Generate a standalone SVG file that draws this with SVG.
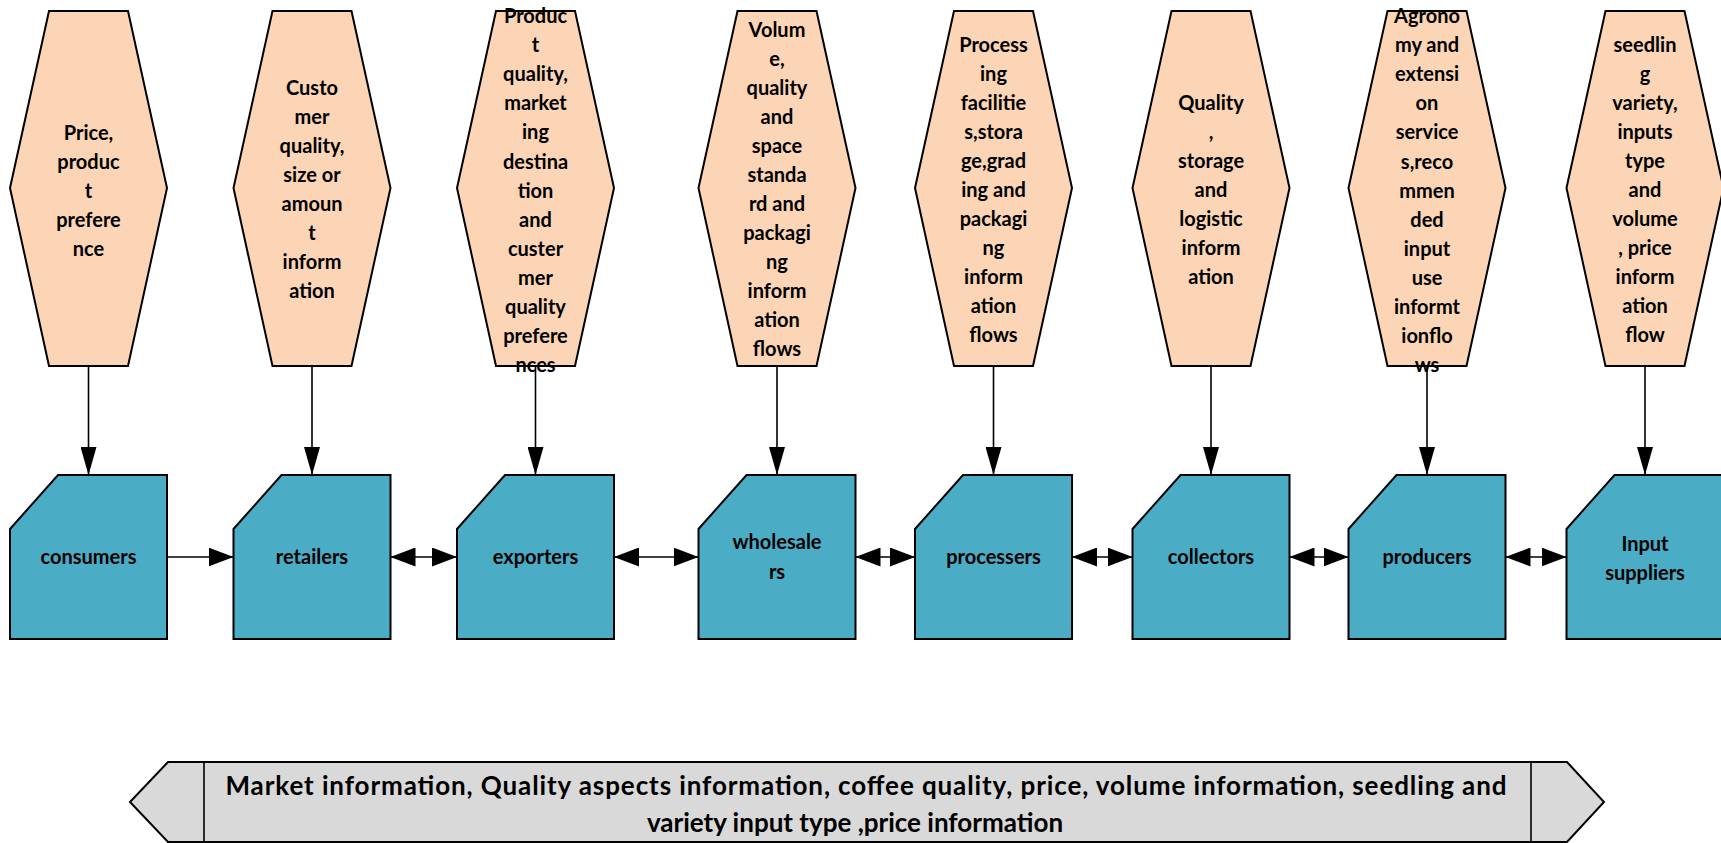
<svg xmlns="http://www.w3.org/2000/svg" xmlns:xlink="http://www.w3.org/1999/xlink" width="1721" height="843" viewBox="0 0 1721 843">
<style>
.hex{fill:#FBD5B5;stroke:#000;stroke-width:2}
.box{fill:#4BACC6;stroke:#000;stroke-width:2}
.ban{fill:#D9D9D9;stroke:#000;stroke-width:2}
.t{font-family:Lato,"Open Sans","Liberation Sans",sans-serif;font-weight:bold;font-size:20px;fill:#000;text-anchor:middle}
.bt{font-family:Lato,"Open Sans","Liberation Sans",sans-serif;font-weight:bold;font-size:26px;fill:#000;text-anchor:middle}
.c{stroke:#000;stroke-width:1.6;fill:none}
.v{marker-end:url(#av)}
.h1{marker-end:url(#ah)}
.h2{marker-start:url(#ah);marker-end:url(#ah)}
</style>
<defs>
<polygon id="hexs" points="-39.5,11 39.5,11 78.5,188 39.5,366 -39.5,366 -78.5,188"/>
<path id="boxs" d="M48,475 H157 V639 H0 V529 Z"/>
<marker id="av" markerUnits="userSpaceOnUse" markerWidth="28" markerHeight="16" viewBox="0 0 28 16" refX="28" refY="8" orient="auto"><path d="M0,0 L28,8 L0,16 Z" fill="#000"/></marker>
<marker id="ah" markerUnits="userSpaceOnUse" markerWidth="25" markerHeight="19" viewBox="0 0 25 19" refX="25" refY="9.5" orient="auto-start-reverse"><path d="M0,0 L25,9.5 L0,19 Z" fill="#000"/></marker>
</defs>

<g id="info-consumers">
<use xlink:href="#hexs" class="hex" x="88.5"/>
<text class="t" x="88.5" y="140"><tspan x="88.5">Price,</tspan><tspan x="88.5" dy="29">produc</tspan><tspan x="88.5" dy="29">t</tspan><tspan x="88.5" dy="29">prefere</tspan><tspan x="88.5" dy="29">nce</tspan></text>
</g>
<g id="info-retailers">
<use xlink:href="#hexs" class="hex" x="312"/>
<text class="t" x="312" y="95"><tspan x="312">Custo</tspan><tspan x="312" dy="29">mer</tspan><tspan x="312" dy="29">quality,</tspan><tspan x="312" dy="29">size or</tspan><tspan x="312" dy="29">amoun</tspan><tspan x="312" dy="29">t</tspan><tspan x="312" dy="29">inform</tspan><tspan x="312" dy="29">ation</tspan></text>
</g>
<g id="info-exporters">
<use xlink:href="#hexs" class="hex" x="535.5"/>
<text class="t" x="535.5" y="23"><tspan x="535.5">Produc</tspan><tspan x="535.5" dy="29.1">t</tspan><tspan x="535.5" dy="29.1">quality,</tspan><tspan x="535.5" dy="29.1">market</tspan><tspan x="535.5" dy="29.1">ing</tspan><tspan x="535.5" dy="29.1">destina</tspan><tspan x="535.5" dy="29.1">tion</tspan><tspan x="535.5" dy="29.1">and</tspan><tspan x="535.5" dy="29.1">custer</tspan><tspan x="535.5" dy="29.1">mer</tspan><tspan x="535.5" dy="29.1">quality</tspan><tspan x="535.5" dy="29.1">prefere</tspan><tspan x="535.5" dy="29.1">nces</tspan></text>
</g>
<g id="info-wholesalers">
<use xlink:href="#hexs" class="hex" x="777"/>
<text class="t" x="777" y="37"><tspan x="777">Volum</tspan><tspan x="777" dy="29">e,</tspan><tspan x="777" dy="29">quality</tspan><tspan x="777" dy="29">and</tspan><tspan x="777" dy="29">space</tspan><tspan x="777" dy="29">standa</tspan><tspan x="777" dy="29">rd and</tspan><tspan x="777" dy="29">packagi</tspan><tspan x="777" dy="29">ng</tspan><tspan x="777" dy="29">inform</tspan><tspan x="777" dy="29">ation</tspan><tspan x="777" dy="29">flows</tspan></text>
</g>
<g id="info-processers">
<use xlink:href="#hexs" class="hex" x="993.5"/>
<text class="t" x="993.5" y="52"><tspan x="993.5">Process</tspan><tspan x="993.5" dy="29">ing</tspan><tspan x="993.5" dy="29">facilitie</tspan><tspan x="993.5" dy="29">s,stora</tspan><tspan x="993.5" dy="29">ge,grad</tspan><tspan x="993.5" dy="29">ing and</tspan><tspan x="993.5" dy="29">packagi</tspan><tspan x="993.5" dy="29">ng</tspan><tspan x="993.5" dy="29">inform</tspan><tspan x="993.5" dy="29">ation</tspan><tspan x="993.5" dy="29">flows</tspan></text>
</g>
<g id="info-collectors">
<use xlink:href="#hexs" class="hex" x="1211"/>
<text class="t" x="1211" y="110"><tspan x="1211">Quality</tspan><tspan x="1211" dy="29">,</tspan><tspan x="1211" dy="29">storage</tspan><tspan x="1211" dy="29">and</tspan><tspan x="1211" dy="29">logistic</tspan><tspan x="1211" dy="29">inform</tspan><tspan x="1211" dy="29">ation</tspan></text>
</g>
<g id="info-producers">
<use xlink:href="#hexs" class="hex" x="1427"/>
<text class="t" x="1427" y="23"><tspan x="1427">Agrono</tspan><tspan x="1427" dy="29.1">my and</tspan><tspan x="1427" dy="29.1">extensi</tspan><tspan x="1427" dy="29.1">on</tspan><tspan x="1427" dy="29.1">service</tspan><tspan x="1427" dy="29.1">s,reco</tspan><tspan x="1427" dy="29.1">mmen</tspan><tspan x="1427" dy="29.1">ded</tspan><tspan x="1427" dy="29.1">input</tspan><tspan x="1427" dy="29.1">use</tspan><tspan x="1427" dy="29.1">informt</tspan><tspan x="1427" dy="29.1">ionflo</tspan><tspan x="1427" dy="29.1">ws</tspan></text>
</g>
<g id="info-input-suppliers">
<use xlink:href="#hexs" class="hex" x="1645"/>
<text class="t" x="1645" y="52"><tspan x="1645">seedlin</tspan><tspan x="1645" dy="29">g</tspan><tspan x="1645" dy="29">variety,</tspan><tspan x="1645" dy="29">inputs</tspan><tspan x="1645" dy="29">type</tspan><tspan x="1645" dy="29">and</tspan><tspan x="1645" dy="29">volume</tspan><tspan x="1645" dy="29">, price</tspan><tspan x="1645" dy="29">inform</tspan><tspan x="1645" dy="29">ation</tspan><tspan x="1645" dy="29">flow</tspan></text>
</g>

<g id="consumers"><use xlink:href="#boxs" class="box" x="10"/><text class="t" x="88.5" y="564">consumers</text></g>
<g id="retailers"><use xlink:href="#boxs" class="box" x="233.5"/><text class="t" x="312" y="564">retailers</text></g>
<g id="exporters"><use xlink:href="#boxs" class="box" x="457"/><text class="t" x="535.5" y="564">exporters</text></g>
<g id="wholesalers"><use xlink:href="#boxs" class="box" x="698.5"/><text class="t" x="777" y="549">wholesale<tspan x="777" dy="30">rs</tspan></text></g>
<g id="processers"><use xlink:href="#boxs" class="box" x="915"/><text class="t" x="993.5" y="564">processers</text></g>
<g id="collectors"><use xlink:href="#boxs" class="box" x="1132.5"/><text class="t" x="1211" y="564">collectors</text></g>
<g id="producers"><use xlink:href="#boxs" class="box" x="1348.5"/><text class="t" x="1427" y="564">producers</text></g>
<g id="input-suppliers"><use xlink:href="#boxs" class="box" x="1566.5"/><text class="t" x="1645" y="551">Input<tspan x="1645" dy="29">suppliers</tspan></text></g>

<g id="connectors">
<line class="c v" x1="88.5" y1="366" x2="88.5" y2="475"/>
<line class="c v" x1="312" y1="366" x2="312" y2="475"/>
<line class="c v" x1="535.5" y1="366" x2="535.5" y2="475"/>
<line class="c v" x1="777" y1="366" x2="777" y2="475"/>
<line class="c v" x1="993.5" y1="366" x2="993.5" y2="475"/>
<line class="c v" x1="1211" y1="366" x2="1211" y2="475"/>
<line class="c v" x1="1427" y1="366" x2="1427" y2="475"/>
<line class="c v" x1="1645" y1="366" x2="1645" y2="475"/>
<line class="c h1" x1="167" y1="557" x2="233.5" y2="557"/>
<line class="c h2" x1="390.5" y1="557" x2="457" y2="557"/>
<line class="c h2" x1="614" y1="557" x2="698.5" y2="557"/>
<line class="c h2" x1="855.5" y1="557" x2="915" y2="557"/>
<line class="c h2" x1="1072" y1="557" x2="1132.5" y2="557"/>
<line class="c h2" x1="1289.5" y1="557" x2="1348.5" y2="557"/>
<line class="c h2" x1="1505.5" y1="557" x2="1566.5" y2="557"/>
</g>

<g id="banner">
<polygon class="ban" points="130,802 168,762 1567,762 1604,802 1567,842 168,842"/>
<line class="c" x1="204" y1="762" x2="204" y2="842" stroke-width="2"/>
<line class="c" x1="1531" y1="762" x2="1531" y2="842" stroke-width="2"/>
<text class="bt" x="866" y="795" textLength="1281" lengthAdjust="spacing">Market information, Quality aspects information, coffee quality, price, volume information, seedling and</text>
<text class="bt" x="855" y="832">variety input type ,price information</text>
</g>
</svg>
